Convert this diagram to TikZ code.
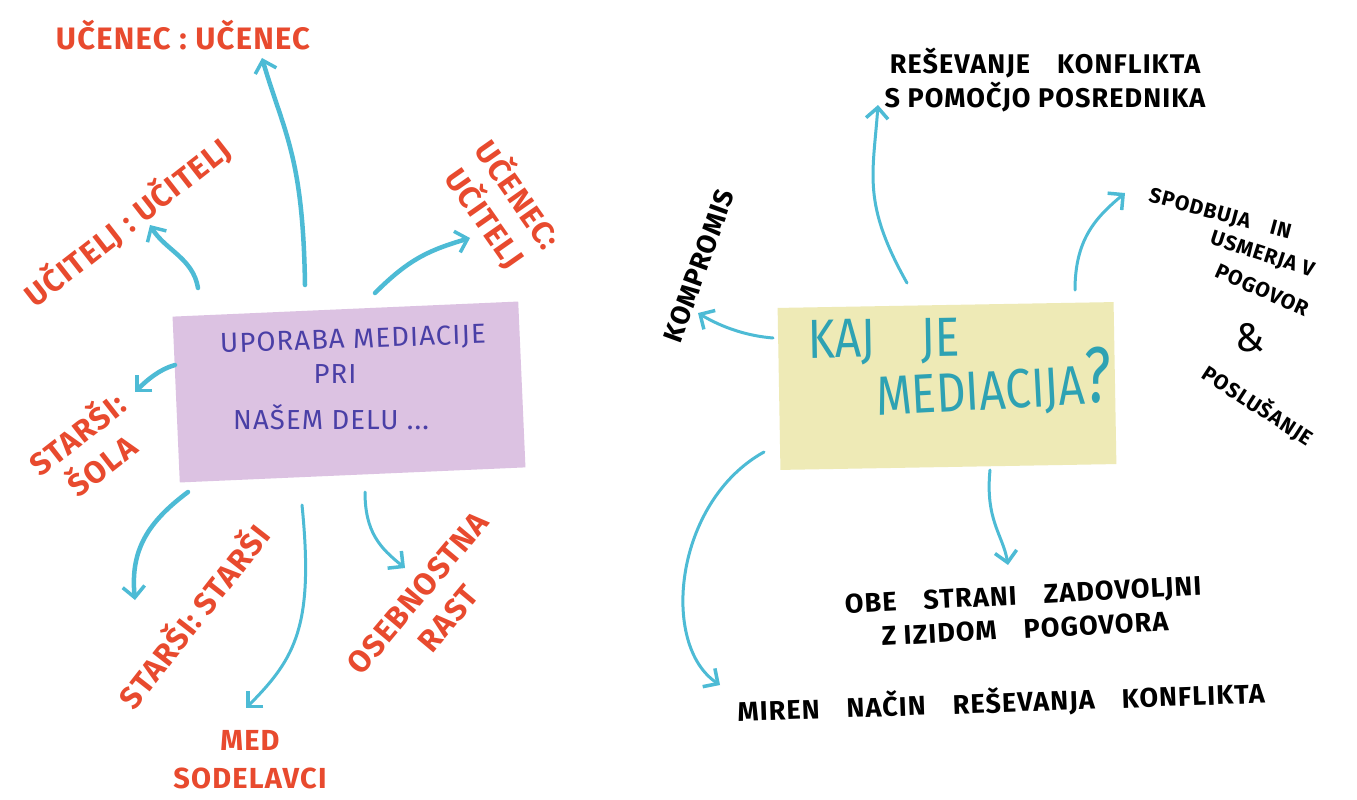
\documentclass[tikz,border=0pt]{standalone}
\usepackage{fontspec}
\setmainfont{Fira Sans}
\newfontfamily\handfont[LetterSpace=4]{Fira Sans}
\usetikzlibrary{arrows.meta}
\usetikzlibrary{positioning,calc}

\definecolor{markerred}{HTML}{E84A2E}
\definecolor{markerblue}{HTML}{4DBBD5}
\definecolor{notepurple}{HTML}{DCC2E2}
\definecolor{noteyellow}{HTML}{EEEAB6}
\definecolor{penviolet}{HTML}{4A3FA6}
\definecolor{markerteal}{HTML}{2EA2B3}

\tikzset{
  redlbl/.style={text=markerred, inner sep=0pt, align=center,
    font=\handfont\bfseries\fontsize{31}{40}\selectfont},
  blklbl/.style={text=black, inner sep=0pt, align=center,
    font=\handfont\bfseries\fontsize{27}{34}\selectfont},
  smallblk/.style={text=black, inner sep=0pt,
    font=\handfont\bfseries\fontsize{21}{24}\selectfont},
  notetxt/.style={text=penviolet, inner sep=0pt,
    font=\handfont\fontsize{27.5}{30}\selectfont},
  tealtxt/.style={text=markerteal, inner sep=0pt,
    font=\fontsize{46}{50}\selectfont},
  sticky/.style={draw=none, inner sep=0pt},
  arr/.style={draw=markerblue, line width=4.5pt, line cap=round,
    -{Straight Barb[length=11pt,width=22pt,line width=3.5pt]}},
  thinarr/.style={arr, line width=3pt},
}

\begin{document}
\begin{tikzpicture}[x=1pt,y=-1pt]
  \useasboundingbox[fill=white] (0,0) rectangle (1357,800);

  % sticky notes
  \node[sticky, fill=notepurple, minimum width=346pt, minimum height=166pt,
        rotate=2.5] (uporaba) at (349,392) {};
  \node[sticky, fill=noteyellow, minimum width=336pt, minimum height=162pt,
        rotate=1] (kaj) at (947,386) {};

  % left mind map
  \node[notetxt, anchor=west, rotate=2] (upl1) at (220,345) {UPORABA MEDIACIJE};
  \node[notetxt] (upl2) at (335,374) {PRI};
  \node[notetxt, anchor=west] (upl3) at (233,417) {NAŠEM DELU ...};

  \node[redlbl] (ucenec) at (183,35) {UČENEC : UČENEC};
  \node[redlbl, rotate=38] (ucitelj) at (127,222) {UČITELJ : UČITELJ};
  \node[redlbl, rotate=-55] (ucuc) at (502,206) {UČENEC:\\UČITELJ};
  \node[redlbl, rotate=38] (starsola) at (88,448) {STARŠI:\\ŠOLA};
  \node[redlbl, rotate=52] (starstar) at (192,615) {STARŠI: STARŠI};
  \node[redlbl, font=\handfont\bfseries\fontsize{29}{38}\selectfont]
        (medsod) at (250,760) {MED\\SODELAVCI};
  \node[redlbl, rotate=50] (rast) at (433,606) {OSEBNOSTNA\\RAST};

  % right mind map
  \node[tealtxt, anchor=west, rotate=1] (kajje) at (808,343) {\scalebox{1}[1.2]{KAJ\quad JE}};
  \node[tealtxt, anchor=west, rotate=3] (medi) at (876,400) {\scalebox{1}[1.2]{MEDIACIJA}};
  \node[tealtxt, font=\fontsize{72}{72}\selectfont] (vpr) at (1098,375) {\scalebox{0.8}[1.1]{?}};

  \node[blklbl] (resevanje) at (1045,80) {REŠEVANJE\quad KONFLIKTA\\S POMOČJO POSREDNIKA};
  \node[blklbl, rotate=70] (kompromis) at (699,266) {KOMPROMIS};

  \node[smallblk, rotate=-15] (spodbuja) at (1220,215) {SPODBUJA\quad IN};
  \node[smallblk, rotate=-18] (usmerja) at (1262,255) {USMERJA V};
  \node[smallblk, rotate=-24] (pogovor) at (1262,290) {POGOVOR};
  \node[smallblk, font=\fontsize{40}{40}\selectfont] (in) at (1250,338) {\&};
  \node[smallblk, rotate=-33] (poslusanje) at (1258,405) {POSLUŠANJE};

  \node[blklbl, rotate=3] (obe) at (1024,612) {OBE\quad STRANI\quad ZADOVOLJNI\\Z IZIDOM\quad POGOVORA};
  \node[blklbl, rotate=2] (miren) at (1001,702) {MIREN\quad NAČIN\quad REŠEVANJA\quad KONFLIKTA};

  % arrows, left
  \draw[arr] ([shift={(-44,-107)}]uporaba.center)
    .. controls +(-2,-130) and +(22,75) .. ([shift={(79,23)}]ucenec.center);
  \draw[arr] ([shift={(-151,-104)}]uporaba.center)
    .. controls +(-5,-30) and +(15,25) .. ([shift={(23,3)}]ucitelj.center);
  \draw[arr] ([shift={(26,-99)}]uporaba.center)
    .. controls +(35,-35) and +(-40,12) .. ([shift={(-32,32)}]ucuc.center);
  \draw[arr] ([shift={(-174,-27)}]uporaba.center)
    .. controls +(-15,4) and +(12,-12) .. ([shift={(47,-56)}]starsola.center);
  \draw[arr] ([shift={(-161,100)}]uporaba.center)
    .. controls +(-40,30) and +(-5,-50) .. ([shift={(-57,-15)}]starstar.center);
  \draw[thinarr] ([shift={(-47,113)}]uporaba.center)
    .. controls +(12,120) and +(50,-50) .. ([shift={(-4,-52)}]medsod.center);
  \draw[thinarr] ([shift={(16,100)}]uporaba.center)
    .. controls +(0,40) and +(-25,-20) .. ([shift={(-28,-38)}]rast.center);

  % arrows, right
  \draw[thinarr] ([shift={(-40,-103)}]kaj.center)
    .. controls +(-45,-80) and +(-5,70) .. ([shift={(-167,25)}]resevanje.center);
  \draw[thinarr] ([shift={(128,-96)}]kaj.center)
    .. controls +(0,-50) and +(-30,25) .. ([shift={(-95,-22)}]spodbuja.center);
  \draw[thinarr] ([shift={(-174,-48)}]kaj.center)
    .. controls +(-25,-2) and +(25,15) .. ([shift={(-1,47)}]kompromis.center);
  \draw[thinarr] ([shift={(-183,66)}]kaj.center)
    .. controls +(-90,50) and +(-60,-40) .. ([shift={(-281,-17)}]miren.center);
  \draw[thinarr] ([shift={(43,84)}]kaj.center)
    .. controls +(-5,50) and +(-5,-30) .. ([shift={(-16,-47)}]obe.center);
\end{tikzpicture}
\end{document}
